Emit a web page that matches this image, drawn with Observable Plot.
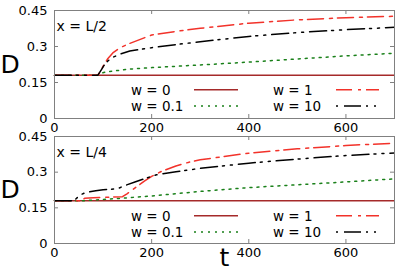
<!DOCTYPE html>
<html><head><meta charset="utf-8">
<script src="https://cdn.jsdelivr.net/npm/d3@7"></script>
<script src="https://cdn.jsdelivr.net/npm/@observablehq/plot@0.6"></script>
<style>
body{margin:0;background:#fff;}
#chart{position:relative;width:395px;height:276px;font-family:"DejaVu Sans",sans-serif;}
#chart svg{position:absolute;left:0;overflow:visible;}
</style></head><body><div id="chart"></div>
<script>
// ---- data ----
const xTicks = [0, 200, 400, 600];
const yTicks = [0, 0.15, 0.3, 0.45];
const yTickLabels = ["0", "0.15", "0.3", "0.45"];
const seriesNames = ["w = 0", "w = 0.1", "w = 1", "w = 10"];
const seriesColors = ["#a52a2a", "#1a801a", "#f2322a", "#000000"];
const seriesDash = [null, "2 5", "16 6 3 5", "17 5 2 6 2 6"];
const panelLabels = ["x = L/2", "x = L/4"];

// top panel (x = L/2)
const topW0T = [0, 700];
const topW0D = [0.18, 0.18];
const topW01T = [0, 89, 95, 105, 130, 155, 200, 300, 400, 500, 600, 700];
const topW01D = [0.18, 0.18, 0.188, 0.194, 0.2, 0.206, 0.212, 0.223, 0.235, 0.248, 0.261, 0.272];
const topW1T = [0, 89, 93, 97, 102, 110, 120, 135, 155, 200, 250, 300, 400, 500, 600, 700];
const topW1D = [0.18, 0.18, 0.192, 0.206, 0.225, 0.25, 0.273, 0.295, 0.313, 0.348, 0.363, 0.376, 0.397, 0.411, 0.42, 0.426];
const topW10T = [0, 89, 93, 97, 102, 110, 120, 135, 155, 200, 250, 300, 400, 500, 600, 700];
const topW10D = [0.18, 0.18, 0.192, 0.205, 0.221, 0.24, 0.255, 0.268, 0.281, 0.295, 0.308, 0.32, 0.342, 0.358, 0.37, 0.38];

// bottom panel (x = L/4)
const botW0T = [0, 700];
const botW0D = [0.18, 0.18];
const botW01T = [0, 60, 100, 150, 200, 300, 400, 500, 600, 700];
const botW01D = [0.18, 0.18, 0.185, 0.192, 0.2, 0.219, 0.235, 0.247, 0.259, 0.272];
const botW1T = [0, 55, 62, 80, 100, 120, 140, 150, 170, 185, 200, 220, 250, 277, 300, 400, 500, 600, 700];
const botW1D = [0.18, 0.18, 0.19, 0.192, 0.194, 0.195, 0.197, 0.21, 0.24, 0.262, 0.282, 0.303, 0.326, 0.342, 0.352, 0.38, 0.398, 0.412, 0.422];
const botW10T = [0, 40, 48, 56, 65, 85, 100, 130, 140, 167, 195, 210, 250, 300, 400, 500, 600, 700];
const botW10D = [0.18, 0.18, 0.195, 0.207, 0.215, 0.222, 0.226, 0.23, 0.24, 0.26, 0.279, 0.289, 0.302, 0.316, 0.338, 0.355, 0.37, 0.381];

const topSeries = [[topW0T, topW0D], [topW01T, topW01D], [topW1T, topW1D], [topW10T, topW10D]];
const botSeries = [[botW0T, botW0D], [botW01T, botW01D], [botW1T, botW1D], [botW10T, botW10D]];

const W = 395, ML = 54, MR = 1;
const frameColor = "#808080";

function panel(series, label, top, height, marginTop, marginBottom, showT) {
  const innerW = W - ML - MR, innerH = height - marginTop - marginBottom;
  const marks = [];
  series.forEach(([ts, ds], i) => {
    const rows = ts.map((t, j) => ({t, D: ds[j]}));
    marks.push(Plot.line(rows, {x: "t", y: "D", stroke: seriesColors[i], strokeWidth: 1.5,
      strokeDasharray: seriesDash[i] || undefined}));
  });
  marks.push(Plot.frame({stroke: frameColor}));
  marks.push(Plot.tickX(xTicks, {x: d => d, stroke: frameColor, insetTop: innerH - 4}));
  marks.push(Plot.tickX(xTicks, {x: d => d, stroke: frameColor, insetBottom: innerH - 4}));
  marks.push(Plot.tickY(yTicks, {y: d => d, stroke: frameColor, insetRight: innerW - 4}));
  marks.push(Plot.tickY(yTicks, {y: d => d, stroke: frameColor, insetLeft: innerW - 4}));
  marks.push(Plot.axisX(xTicks, {tickSize: 0, tickPadding: 4, fontSize: 13, label: null, tickFormat: d => String(d)}));
  marks.push(Plot.axisY(yTicks, {tickSize: 0, tickPadding: 7, fontSize: 13, label: null,
    tickFormat: d => yTickLabels[yTicks.indexOf(d)]}));
  marks.push(Plot.text(["D"], {frameAnchor: "left", dx: -44.5, fontSize: 25, textAnchor: "middle"}));
  marks.push(Plot.text([label], {frameAnchor: "top-left", dx: 2, dy: 11, textAnchor: "start", fontSize: 14}));
  if (showT) marks.push(Plot.text(["t"], {frameAnchor: "bottom", dy: 22, fontSize: 25}));
  const svg = Plot.plot({
    width: W, height, marginLeft: ML, marginRight: MR, marginTop, marginBottom,
    x: {domain: [0, 700], axis: null},
    y: {domain: [0, 0.45], axis: null},
    style: {fontFamily: "DejaVu Sans, sans-serif", fontSize: "13px", background: "transparent", overflow: "visible", color: "#000"},
    marks
  });
  svg.style.top = top + "px";
  // legend (inside the plot frame)
  const g = d3.select(svg).append("g").attr("text-anchor", "start");
  const rowY = [marginTop + 79.7, marginTop + 96];
  const textX = [131, 273], sampleX = [[194, 238], [336, 379]];
  seriesNames.forEach((name, i) => {
    const col = i < 2 ? 0 : 1, row = i % 2;
    g.append("text").attr("x", textX[col]).attr("y", rowY[row]).attr("dy", "0.36em")
      .attr("text-anchor", "start")
      .attr("font-size", 13.5).attr("font-family", "DejaVu Sans, sans-serif").attr("fill", "#000").text(name);
    g.append("line").attr("x1", sampleX[col][0]).attr("x2", sampleX[col][1])
      .attr("y1", rowY[row]).attr("y2", rowY[row]).attr("stroke", seriesColors[i]).attr("stroke-width", 1.5)
      .attr("stroke-dasharray", seriesDash[i] || null)
      .attr("stroke-dashoffset", i === 3 ? 30 : 0);
  });
  return svg;
}

const chart = document.getElementById("chart");
chart.appendChild(panel(topSeries, panelLabels[0], 0, 133, 10, 15, false));
chart.appendChild(panel(botSeries, panelLabels[1], 130, 146, 6, 33, true));
</script></body></html>
